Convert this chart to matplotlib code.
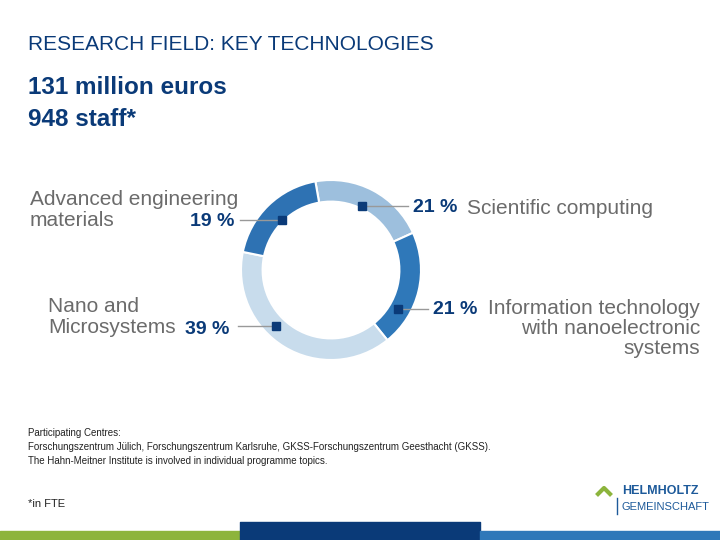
import matplotlib.pyplot as plt

plt.rcParams["font.family"] = "Liberation Sans"

labels = ["Scientific computing", "Information technology\nwith nanoelectronic\nsystems",
          "Nano and\nMicrosystems", "Advanced engineering\nmaterials"]
shares = [21, 21, 39, 19]
colors = ["#9dbfdd", "#2f78b9", "#c8dcec", "#2e72b3"]

fig = plt.figure(figsize=(7.2, 5.4), dpi=100)

# donut
ax = fig.add_axes([241 / 720, 180 / 540, 180 / 720, 180 / 540])
ax.pie(shares, colors=colors, startangle=100, counterclock=False, radius=1,
       wedgeprops=dict(width=0.24, edgecolor="white", linewidth=1.5))
ax.set_xlim(-1, 1)
ax.set_ylim(-1, 1)
ax.set_aspect("equal")

bg = fig.add_axes([0, 0, 1, 1])
bg.set_xlim(0, 720)
bg.set_ylim(540, 0)
bg.axis("off")
bg.patch.set_alpha(0)

navy = "#0a3a78"
bg.text(28, 44, "RESEARCH FIELD: KEY TECHNOLOGIES", fontsize=15, color=navy, va="center")
bg.text(28, 87, "131 million euros", fontsize=17.5, color=navy, va="center", fontweight="bold")
bg.text(28, 119, "948 staff*", fontsize=17.5, color=navy, va="center", fontweight="bold")

grey = "#6b6b6b"
lc = "#999999"
fs = 15
bg.plot([362, 408], [206, 206], color=lc, lw=1)
bg.plot(362, 206, "s", color=navy, ms=6)
bg.text(413, 208, "21 %", fontsize=14, color=navy, fontweight="bold", va="center")
bg.text(467, 208, labels[0], fontsize=fs, color=grey, va="center")

bg.plot([398, 428], [309, 309], color=lc, lw=1)
bg.plot(398, 309, "s", color=navy, ms=6)
bg.text(433, 309, "21 %", fontsize=14, color=navy, fontweight="bold", va="center")
bg.text(700, 299, labels[1], fontsize=fs, color=grey, va="top", ha="right", linespacing=1.08)

bg.plot([238, 276], [326, 326], color=lc, lw=1)
bg.plot(276, 326, "s", color=navy, ms=6)
bg.text(185, 329, "39 %", fontsize=14, color=navy, fontweight="bold", va="center")
bg.text(48, 317, labels[2], fontsize=fs, color=grey, va="center", linespacing=1.08)

bg.plot([240, 282], [220, 220], color=lc, lw=1)
bg.plot(282, 220, "s", color=navy, ms=6)
bg.text(190, 221, "19 %", fontsize=14, color=navy, fontweight="bold", va="center")
bg.text(30, 210, labels[3], fontsize=fs, color=grey, va="center", linespacing=1.08)

bg.text(28, 447, "Participating Centres:\nForschungszentrum Jülich, Forschungszentrum Karlsruhe, "
        "GKSS-Forschungszentrum Geesthacht (GKSS).\nThe Hahn-Meitner Institute is involved in "
        "individual programme topics.", fontsize=7, color="#222222", va="center", linespacing=1.55)
bg.text(28, 504, "*in FTE", fontsize=8, color="#222222", va="center")

# logo
bg.text(622, 491, "HELMHOLTZ", fontsize=9, color="#1d5a9a", fontweight="bold", va="center")
bg.text(622, 507, "GEMEINSCHAFT", fontsize=8, color="#1d5a9a", va="center")
bg.plot([617, 617], [498, 514], color="#1d5a9a", lw=1)
bg.plot([598, 604, 610], [494, 488, 494], color="#8cb43c", lw=3)

# bottom bars
bg.fill_between([0, 240], 531, 540, color="#8db43c")
bg.fill_between([240, 480], 522, 540, color="#0a3a78")
bg.fill_between([480, 720], 531, 540, color="#2f78b9")

fig.savefig("out.png", dpi=100)
